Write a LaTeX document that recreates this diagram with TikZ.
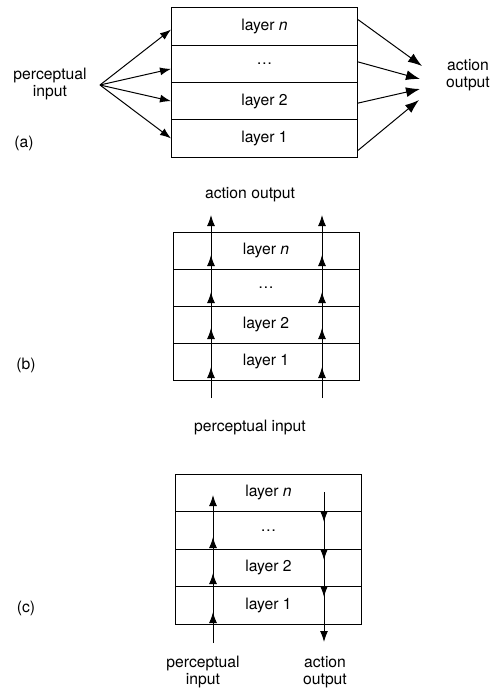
\documentclass[tikz,border=0pt]{standalone}
\usepackage{fontspec}
\setmainfont{TeX Gyre Heros}
\usetikzlibrary{arrows.meta}

\tikzset{
  layer/.style={draw, minimum width=186pt, minimum height=37.25pt, inner sep=0pt},
  arr/.style={-{Latex[length=11pt,width=8pt]}},
  bigarr/.style={-{Latex[length=14pt,width=10pt]}},
  lbl/.style={align=center, inner sep=0pt}
}

\begin{document}
\begin{tikzpicture}[x=1pt,y=-1pt,line width=1pt,font=\fontsize{15.7}{17}\selectfont]
\useasboundingbox (0,0) rectangle (493,690);
% (a) horizontal layers
\node[layer] (an) at (264.5,26.6) {layer \textit{n}};
\node[layer] (ad) at (264.5,63.9) {\dots};
\node[layer] (a2) at (264.5,101.1) {layer 2};
\node[layer] (a1) at (264.5,138.4) {layer 1};
\node[lbl] (apin) at (50,84) {perceptual\\input};
\coordinate (ain) at (100,85);
\draw[arr] (ain) -- ([yshift=-3pt]an.west);
\draw[arr] (ain) -- ([yshift=-5pt]ad.west);
\draw[arr] (ain) -- (a2.west);
\draw[arr] (ain) -- (a1.west);
\coordinate (ao1) at (422,66);
\coordinate (ao2) at (420,79);
\coordinate (ao3) at (420,89);
\coordinate (ao4) at (419,100);
\draw[bigarr] ([yshift=7pt]an.east) -- (ao1);
\draw[bigarr] ([yshift=2pt]ad.east) -- (ao2);
\draw[bigarr] ([yshift=-2pt]a2.east) -- (ao3);
\draw[bigarr] ([yshift=-12pt]a1.east) -- (ao4);
\node[lbl] (aout) at (468,75) {action\\output};
\node (alab) at (24,143) {(a)};
% (b) vertical layers, two paths up
\node[layer, minimum height=37pt] (bn) at (266,250.5) {layer \textit{n}};
\node[layer, minimum height=37pt] (bd) at (266,287.5) {\dots};
\node[layer, minimum height=37pt] (b2) at (266,324.5) {layer 2};
\node[layer, minimum height=37pt] (b1) at (266,361.5) {layer 1};
\coordinate (bil) at (211,398);
\coordinate (bol) at (211,215);
\coordinate (bir) at (322,398);
\coordinate (bor) at (322,215);
\draw[arr] (bil) -- (bol);
\draw[arr] (bir) -- (bor);
\foreach \t in {367,328,292,255} {
  \draw[arr] (211,\t+10) -- (211,\t);
  \draw[arr] (322,\t+10) -- (322,\t);
}
\node (bout) at (250,195) {action output};
\node (bpin) at (250,427) {perceptual input};
\node (blab) at (26,365) {(b)};
% (c) vertical layers, up then down
\node[layer, minimum height=37.5pt] (cn) at (268.5,492.75) {layer \textit{n}};
\node[layer, minimum height=37.5pt] (cd) at (268.5,530.25) {\dots};
\node[layer, minimum height=37.5pt] (c2) at (268.5,567.75) {layer 2};
\node[layer, minimum height=37.5pt] (c1) at (268.5,605.25) {layer 1};
\coordinate (cil) at (213,643);
\coordinate (cup) at (213,495);
\coordinate (ctop) at (324,492);
\coordinate (col) at (324,642);
\draw[arr] (cil) -- (cup);
\draw[arr] (ctop) -- (col);
\foreach \t in {537,573,612} \draw[arr] (213,\t+10) -- (213,\t);
\foreach \t in {522,560,597} \draw[arr] (324,\t-10) -- (324,\t);
\node[lbl] (cpin) at (203,672) {perceptual\\input};
\node[lbl] (cout) at (325,672) {action\\output};
\node (clab) at (26,608) {(c)};
\end{tikzpicture}
\end{document}
